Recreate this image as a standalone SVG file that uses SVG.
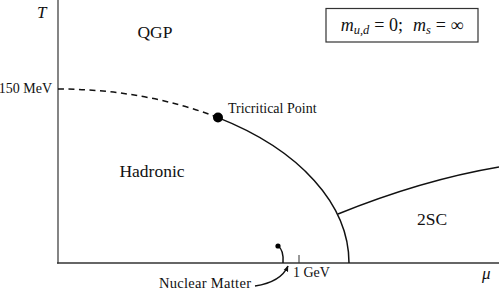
<svg xmlns="http://www.w3.org/2000/svg" width="499" height="292" viewBox="0 0 499 292">
<style>
text{font-family:"Liberation Serif","DejaVu Serif",serif;fill:#111}
.region{font-size:17.5px}
.small{font-size:14px}
.it{font-style:italic}
.curve{fill:none;stroke:#111;stroke-width:1.5}
</style>
<defs>
<marker id="ah" viewBox="0 0 10 10" refX="9" refY="5" markerWidth="6" markerHeight="6" orient="auto" markerUnits="userSpaceOnUse">
<path d="M0,1 L10,5 L0,9 z" fill="#111"/>
</marker>
</defs>
<rect width="499" height="292" fill="#fff"/>
<g id="axes">
<line x1="58" y1="0" x2="58" y2="263.5" stroke="#666" stroke-width="1.6"/>
<line x1="57" y1="263" x2="499" y2="263" stroke="#333" stroke-width="1.5"/>
<line x1="299" y1="255" x2="299" y2="263" stroke="#333" stroke-width="1"/>
<text class="it" x="37" y="18" font-size="17">T</text>
<text class="it" x="482" y="279" font-size="17">μ</text>
<text class="small" x="52" y="93" text-anchor="end">150 MeV</text>
<text class="small" x="293" y="277">1 GeV</text>
</g>
<g id="connectors">
<path class="curve" d="M58,89 A291,174 0 0 1 218,117.6" stroke-dasharray="6,4.5"/>
<path class="curve" d="M218,117.6 A291,174 0 0 1 349,263"/>
<path class="curve" d="M338,214 Q422,180 499,167"/>
<path class="curve" d="M278,246 Q284,250 283,263" stroke-width="1.2"/>
<path class="curve" d="M255,286 Q281,282 288,266" stroke-width="1" marker-end="url(#ah)"/>
</g>
<g id="tricritical">
<circle cx="218" cy="117.5" r="5" fill="#000"/>
<text class="small" x="228" y="113">Tricritical Point</text>
</g>
<g id="nuclear-matter">
<circle cx="278" cy="246" r="2.6" fill="#000"/>
<text x="159" y="288" font-size="14.5" textLength="92" lengthAdjust="spacing">Nuclear Matter</text>
</g>
<g id="qgp"><text class="region" x="155" y="38" text-anchor="middle">QGP</text></g>
<g id="hadronic"><text class="region" x="152" y="177" text-anchor="middle">Hadronic</text></g>
<g id="sc2"><text class="region" x="432" y="225" text-anchor="middle">2SC</text></g>
<g id="legend">
<rect x="326" y="8.5" width="152" height="33.5" fill="#fff" stroke="#333" stroke-width="1.2"/>
<text x="402" y="31" text-anchor="middle" font-size="18"><tspan class="it">m</tspan><tspan class="it" font-size="12.5" dy="3">u,d</tspan><tspan dy="-3" dx="5">= 0;</tspan><tspan class="it" dx="10">m</tspan><tspan class="it" font-size="12.5" dy="3">s</tspan><tspan dy="-3" dx="5">= ∞</tspan></text>
</g>
</svg>
